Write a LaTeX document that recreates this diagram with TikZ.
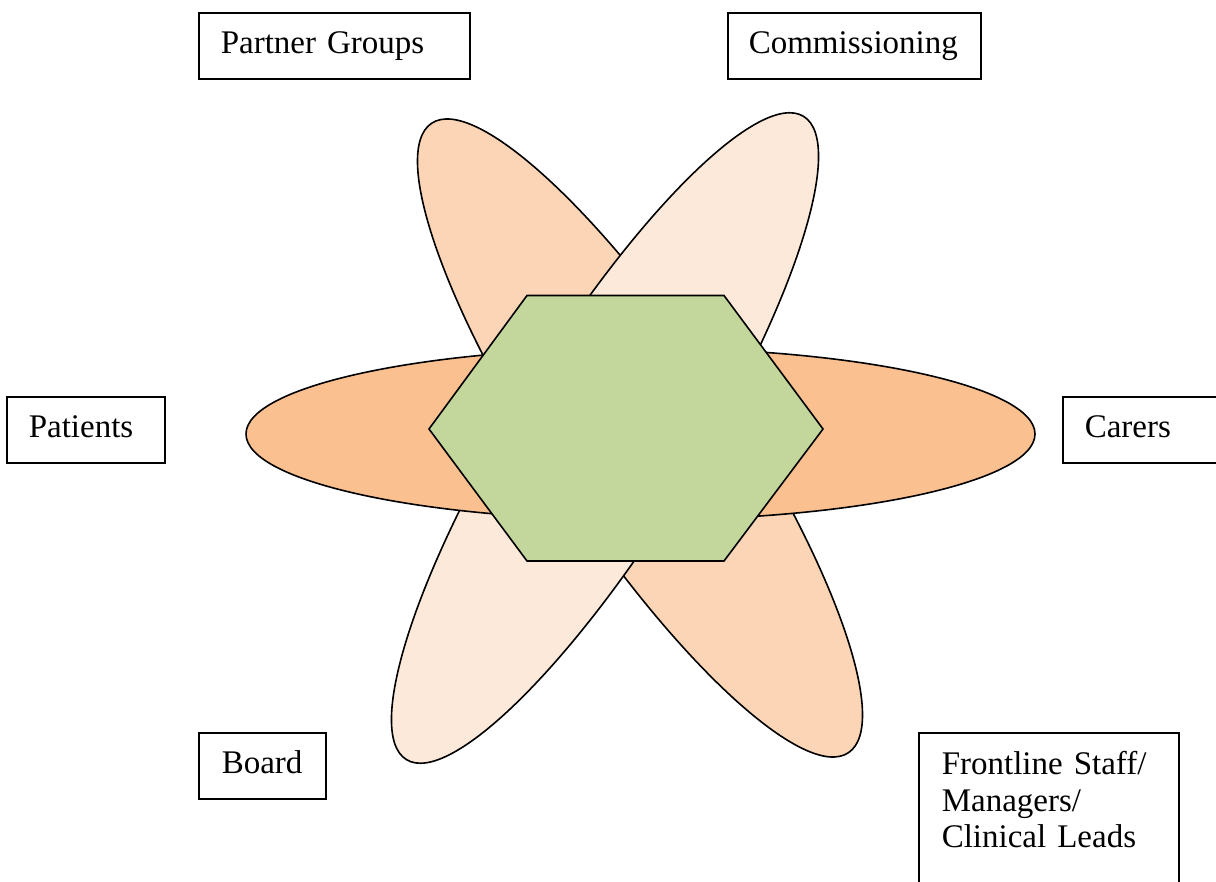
\documentclass[tikz,border=0pt]{standalone}
\usepackage{fontspec}
\setmainfont{Liberation Serif}

% Office-style tints
\definecolor{peachMid}{HTML}{FBD5B5}
\definecolor{peachPale}{HTML}{FDE9D9}
\definecolor{peachDeep}{HTML}{FAC090}
\definecolor{hexGreen}{HTML}{C3D69B}

\newcommand{\indentline}[1]{\hspace*{#1pt}}

\begin{document}
\begin{tikzpicture}[x=1pt,y=-1pt,
  petal/.style={draw=black, line width=1.6pt},
  labelbox/.style={draw=black, line width=1.6pt, anchor=north west,
    inner xsep=0pt, inner ysep=0pt, align=left,
    text height=41pt, text depth=25pt,
    font=\fontsize{33}{36.5}\selectfont}
]
\useasboundingbox (0,0) rectangle (1216,882);
\clip (0,0) rectangle (1216,882);

% diagonal petals (pale one lies on top)
\filldraw[petal, fill=peachMid, rotate around={123.5:(640,438)}]
  (640,438) ellipse [x radius=377.5, y radius=93.5];
\filldraw[petal, fill=peachPale, rotate around={58.3:(605,438)}]
  (605,438) ellipse [x radius=378, y radius=92];
% horizontal petal
\filldraw[petal, fill=peachDeep] (640.5,434) ellipse [x radius=394.5, y radius=86];

% central hexagon
\filldraw[petal, fill=hexGreen]
  (429,429) -- (527,295.5) -- (724,295.5) -- (823,429) -- (724,561) -- (527,561) -- cycle;

% surrounding labels
\node[labelbox, text width=271pt] (partner) at (198,12)
  {\indentline{22}Partner Groups};
\node[labelbox, text width=253pt] (commission) at (727,12)
  {\indentline{21}Commissioning};
\node[labelbox, text width=158pt] (patients) at (6,396)
  {\indentline{22}Patients};
\node[labelbox, text width=180pt] (carers) at (1062,396)
  {\indentline{22}Carers};
\node[labelbox, text width=127pt] (board) at (198,732)
  {\indentline{23}Board};
\node[labelbox, text width=260pt, text height=42pt, text depth=200pt] (frontline) at (918,732)
  {\indentline{23}Frontline Staff/\\\indentline{23}Managers/\\\indentline{23}Clinical Leads};
\end{tikzpicture}
\end{document}
